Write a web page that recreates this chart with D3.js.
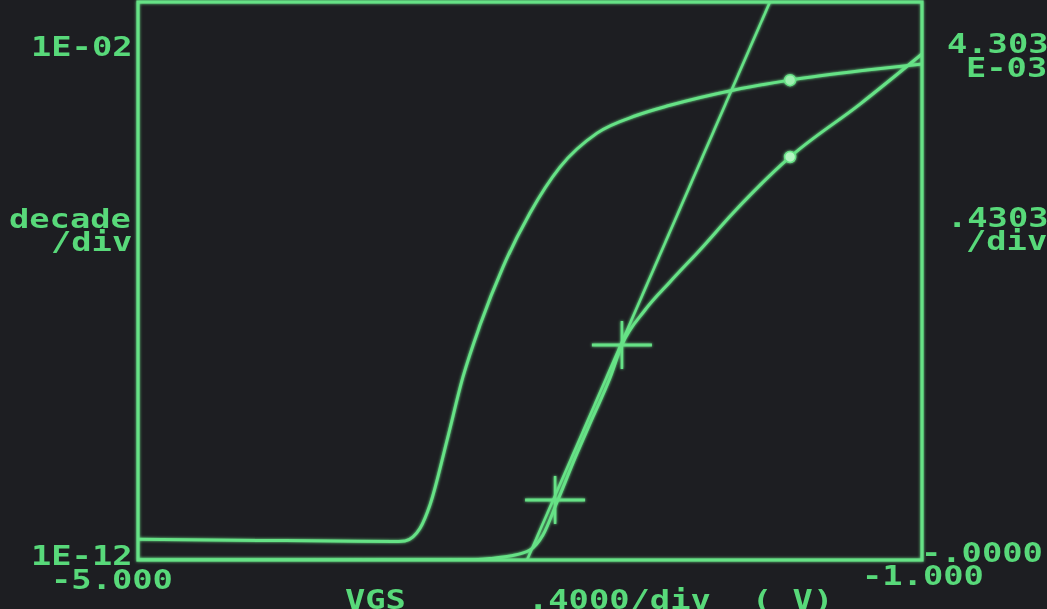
<!DOCTYPE html>
<html>
<head>
<meta charset="utf-8">
<script src="https://cdn.jsdelivr.net/npm/d3@7"></script>
<style>
  html, body { margin: 0; padding: 0; background: #1d1e22; overflow: hidden; }
  svg { display: block; }
</style>
</head>
<body>
<svg id="chart" width="1047" height="609"></svg>
<script>
// ---- Data ----
// Gate voltage VGS (V), log-scale drain current trace (A)
const vgsLog = [-5.0, -4.5, -4.0, -3.70, -3.638, -3.597, -3.561, -3.510, -3.423, -3.342, -3.255, -3.138, -3.0, -2.847, -2.658, -2.454, -2.286, -1.964, -1.673, -1.281, -1.0];
const idLog  = [2.35e-12, 2.25e-12, 2.2e-12, 2.15e-12, 2.2e-12, 2.6e-12, 3.7e-12, 9.8e-12, 1.41e-10, 1.91e-9, 1.62e-8, 1.78e-7, 1.66e-6, 1.10e-5, 4.47e-5, 9.33e-5, 1.41e-4, 2.63e-4, 3.98e-4, 6.03e-4, 7.76e-4];
// Linear-scale drain current trace (A)
const vgsLin = [-5.0, -3.30, -3.204, -3.102, -3.0, -2.934, -2.862, -2.770, -2.679, -2.592, -2.531, -2.413, -2.286, -2.133, -1.964, -1.673, -1.316, -1.0];
const idLin  = [0, 0.002e-3, 0.012e-3, 0.031e-3, 0.077e-3, 0.193e-3, 0.447e-3, 0.787e-3, 1.103e-3, 1.403e-3, 1.658e-3, 1.928e-3, 2.144e-3, 2.391e-3, 2.676e-3, 3.108e-3, 3.516e-3, 3.902e-3];
// Cursor crosshairs (VGS, linear Id)
const crossV = [-2.531, -2.872];
const crossI = [1.658e-3, 0.463e-3];
// Extrapolation (tangent) line end points
const tangentV = [-3.015, -1.776];
const tangentI = [0, 4.303e-3];
// Marker position on both traces
const markerV = [-1.673];
const markerLogI = [3.98e-4];
const markerLinI = [3.108e-3];
// Axis settings
const xDomain = [-5.0, -1.0];
const yLogDomain = [1e-12, 1e-2];
const yLinDomain = [0, 4.303e-3];
// Text labels
const leftLabels  = ["1E-02", "decade", "/div", "1E-12", "-5.000"];
const rightLabels = ["4.303", "E-03", ".4303", "/div", "-.0000", "-1.000"];
const bottomLabels = ["VGS", ".4000/div", "( V)"];

// ---- Layout ----
const W = 1047, H = 609;
const plot = { left: 138, right: 922, top: 2, bottom: 560 };
const green = "#66e286";
const textGreen = "#58d97a";

const svg = d3.select("#chart");

const defs = svg.append("defs");
const glow = defs.append("filter").attr("id", "glow").attr("x", "-20%").attr("y", "-20%").attr("width", "140%").attr("height", "140%");
glow.append("feGaussianBlur").attr("in", "SourceGraphic").attr("stdDeviation", 1.6).attr("result", "b");
const m = glow.append("feMerge");
m.append("feMergeNode").attr("in", "b");
m.append("feMergeNode").attr("in", "SourceGraphic");

const soft = defs.append("filter").attr("id", "soft");
soft.append("feGaussianBlur").attr("stdDeviation", 0.6);

defs.append("clipPath").attr("id", "clip").append("rect")
  .attr("x", plot.left).attr("y", plot.top)
  .attr("width", plot.right - plot.left).attr("height", plot.bottom - plot.top);

svg.append("rect").attr("width", W).attr("height", H).attr("fill", "#1d1e22");

const x = d3.scaleLinear().domain(xDomain).range([plot.left, plot.right]);
const yLog = d3.scaleLog().domain(yLogDomain).range([plot.bottom, plot.top]);
const yLin = d3.scaleLinear().domain(yLinDomain).range([plot.bottom, plot.top]);

// Frame
svg.append("rect")
  .attr("x", plot.left).attr("y", plot.top)
  .attr("width", plot.right - plot.left).attr("height", plot.bottom - plot.top)
  .attr("fill", "none").attr("stroke", green).attr("stroke-width", 3.2)
  .attr("filter", "url(#glow)");

const g = svg.append("g").attr("clip-path", "url(#clip)");
const traces = g.append("g").attr("filter", "url(#glow)");

const logData = vgsLog.map((v, i) => [v, idLog[i]]);
const linData = vgsLin.map((v, i) => [v, idLin[i]]);

traces.append("path")
  .datum(logData)
  .attr("d", d3.line().x(d => x(d[0])).y(d => yLog(d[1])).curve(d3.curveMonotoneX))
  .attr("fill", "none").attr("stroke", green).attr("stroke-width", 3);

traces.append("path")
  .datum(linData)
  .attr("d", d3.line().x(d => x(d[0])).y(d => yLin(d[1])).curve(d3.curveMonotoneX))
  .attr("fill", "none").attr("stroke", green).attr("stroke-width", 3);

// Tangent line
traces.append("line")
  .attr("x1", x(tangentV[0])).attr("y1", yLin(tangentI[0]))
  .attr("x2", x(tangentV[1])).attr("y2", yLin(tangentI[1]))
  .attr("stroke", green).attr("stroke-width", 2.6);

// Crosshairs
crossV.forEach((v, i) => {
  const cx = x(v), cy = yLin(crossI[i]);
  traces.append("line").attr("x1", cx - 30).attr("x2", cx + 30).attr("y1", cy).attr("y2", cy)
    .attr("stroke", green).attr("stroke-width", 3);
  traces.append("line").attr("x1", cx).attr("x2", cx).attr("y1", cy - 24).attr("y2", cy + 24)
    .attr("stroke", green).attr("stroke-width", 2.6);
});

// Markers
markerV.forEach((v, i) => {
  traces.append("circle").attr("cx", x(v)).attr("cy", yLog(markerLogI[i])).attr("r", 5.5)
    .attr("fill", "#9ef0b0").attr("stroke", green).attr("stroke-width", 1.5);
  traces.append("circle").attr("cx", x(v)).attr("cy", yLin(markerLinI[i])).attr("r", 5.5)
    .attr("fill", "#b4f5c2").attr("stroke", green).attr("stroke-width", 1.5);
});

// ---- Text ----
const txt = svg.append("g").attr("filter", "url(#soft)");
function label(s, px, py) {
  txt.append("text")
    .attr("transform", `translate(${px},${py}) scale(1.25,1)`)
    .attr("font-family", "'DejaVu Sans Mono', monospace")
    .attr("font-weight", "bold")
    .attr("font-size", 27)
    .attr("fill", textGreen)
    .text(s);
}
// left
label(leftLabels[0], 31, 56);
label(leftLabels[1], 9, 228);
label(leftLabels[2], 51, 251);
label(leftLabels[3], 31, 565);
label(leftLabels[4], 51, 589);
// right
label(rightLabels[0], 947, 53);
label(rightLabels[1], 966, 77);
label(rightLabels[2], 947, 227);
label(rightLabels[3], 966, 250);
label(rightLabels[4], 921, 562);
label(rightLabels[5], 862, 585);
// bottom
label(bottomLabels[0], 345, 609);
label(bottomLabels[1], 528, 609);
label(bottomLabels[2], 752, 609);
</script>
</body>
</html>
